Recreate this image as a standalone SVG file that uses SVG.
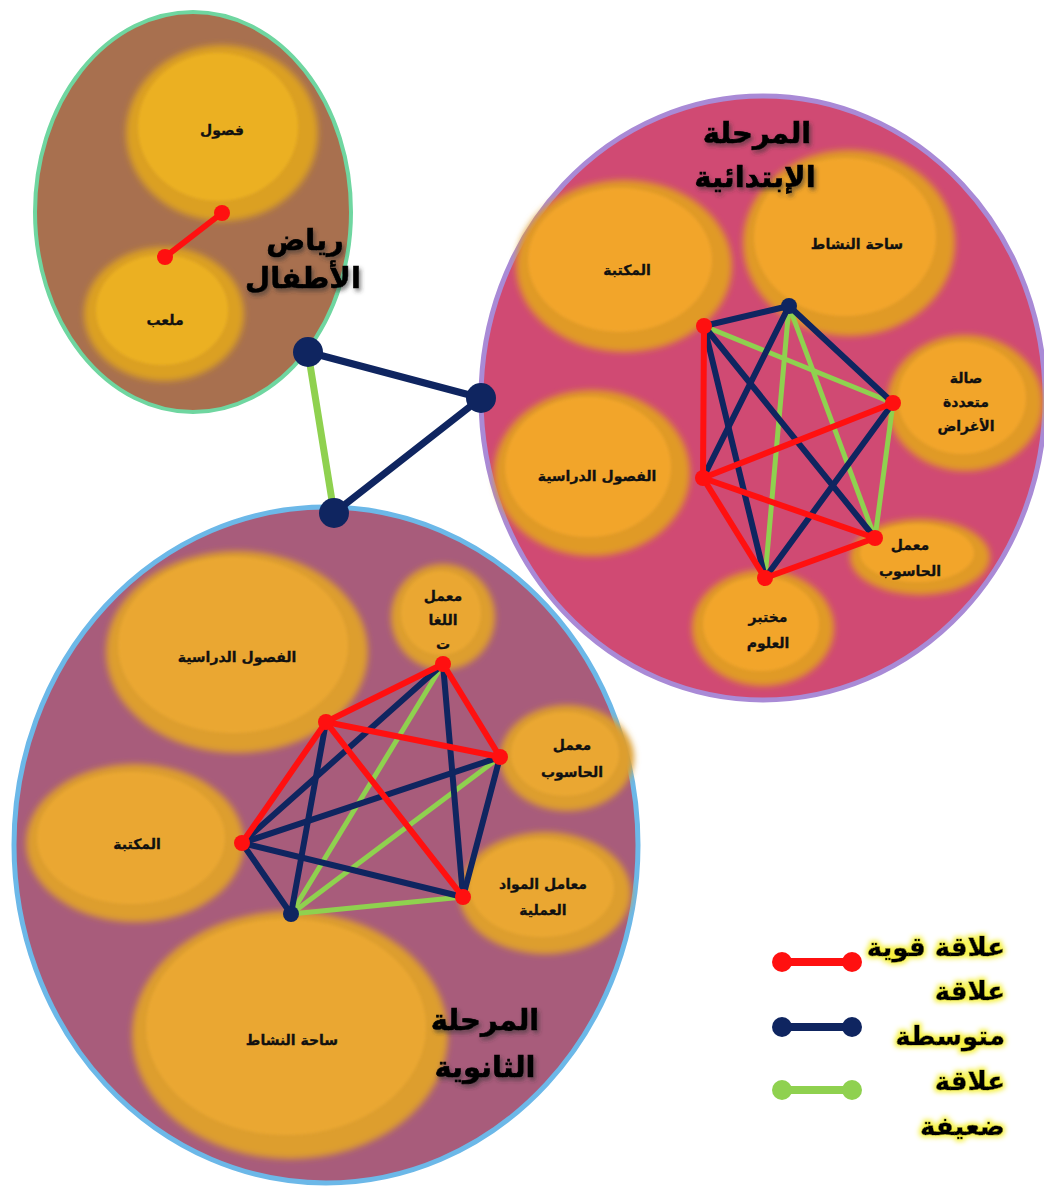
<svg xmlns="http://www.w3.org/2000/svg" width="1044" height="1189" viewBox="0 0 1044 1189">
<defs>
<filter id="soft" x="-10%" y="-10%" width="120%" height="120%"><feGaussianBlur stdDeviation="3"/></filter>
<filter id="soft2" x="-10%" y="-10%" width="120%" height="120%"><feGaussianBlur stdDeviation="1.5"/></filter>
<filter id="tshadow" x="-20%" y="-20%" width="140%" height="140%">
<feGaussianBlur in="SourceAlpha" stdDeviation="2"/><feOffset dx="2" dy="3" result="b"/>
<feFlood flood-color="#333" flood-opacity="0.6"/><feComposite in2="b" operator="in" result="s"/>
<feMerge><feMergeNode in="s"/><feMergeNode in="SourceGraphic"/></feMerge>
</filter>
<filter id="glow" x="-20%" y="-30%" width="140%" height="160%">
<feMorphology in="SourceAlpha" operator="dilate" radius="2" result="d"/>
<feGaussianBlur in="d" stdDeviation="2.5" result="b"/>
<feFlood flood-color="#f5f03a"/><feComposite in2="b" operator="in" result="g"/>
<feMerge><feMergeNode in="g"/><feMergeNode in="SourceGraphic"/></feMerge>
</filter>
</defs>
<style>
.room-o{fill:#e09a28;filter:url(#soft)}
.room-i{fill:#f2a52c;filter:url(#soft2)}
.kg .room-o{fill:#dba024}
.kg .room-i{fill:#ebb023}
.sec .room-o{fill:#dd9e2e}
.sec .room-i{fill:#eaa733}
.lbl{font-family:"DejaVu Sans",sans-serif;font-weight:bold;font-size:14px;fill:#111;stroke:#111;stroke-width:0.3;text-anchor:middle}
.title{font-family:"DejaVu Sans",sans-serif;font-weight:bold;font-size:29px;fill:#000;stroke:#000;stroke-width:0.6;text-anchor:middle;filter:url(#tshadow)}
.leg{font-family:"DejaVu Sans",sans-serif;font-weight:bold;font-size:26px;fill:#000;stroke:#000;stroke-width:0.6;text-anchor:end;filter:url(#glow)}
.r{stroke:#ff1010;stroke-width:6;stroke-linecap:round}
.n{stroke:#0f2560;stroke-width:6;stroke-linecap:round}
.g{stroke:#8fd14f;stroke-width:5;stroke-linecap:round}
.nr{fill:#ff1010}
.nn{fill:#0f2560}
</style>

<!-- Kindergarten -->
<g id="kindergarten" class="kg">
<ellipse cx="193" cy="212" rx="158" ry="200" fill="#a8704f" stroke="#6fd6a0" stroke-width="4"/>
<g id="kg-classes"><ellipse class="room-o" cx="222" cy="133" rx="96" ry="88"/><ellipse class="room-i" cx="218" cy="127" rx="80" ry="74"/><text class="lbl" x="222" y="135">فصول</text></g>
<g id="kg-playground"><ellipse class="room-o" cx="164" cy="314" rx="80" ry="67"/><ellipse class="room-i" cx="162" cy="310" rx="66" ry="55"/><text class="lbl" x="165" y="325">ملعب</text></g>
<text class="title" x="305" y="250">رياض</text>
<text class="title" x="303" y="288">الأطفال</text>
</g>

<!-- Primary -->
<g id="primary">
<ellipse cx="763" cy="398" rx="282" ry="302" fill="#d04a73" stroke="#a98ad6" stroke-width="5"/>
<g id="p-library"><ellipse class="room-o" cx="624" cy="266" rx="108" ry="86"/><ellipse class="room-i" cx="620" cy="260" rx="92" ry="72"/><text class="lbl" x="627" y="275">المكتبة</text></g>
<g id="p-activity"><ellipse class="room-o" cx="849" cy="243" rx="106" ry="93"/><ellipse class="room-i" cx="845" cy="237" rx="91" ry="79"/><text class="lbl" x="857" y="249">ساحة النشاط</text></g>
<g id="p-hall"><ellipse class="room-o" cx="965" cy="403" rx="78" ry="68"/><ellipse class="room-i" cx="962" cy="398" rx="64" ry="56"/><text class="lbl" x="966" y="383">صالة</text><text class="lbl" x="966" y="407">متعددة</text><text class="lbl" x="966" y="431">الأغراض</text></g>
<g id="p-classes"><ellipse class="room-o" cx="592" cy="473" rx="98" ry="83"/><ellipse class="room-i" cx="588" cy="467" rx="83" ry="70"/><text class="lbl" x="597" y="481">الفصول الدراسية</text></g>
<g id="p-computer"><ellipse class="room-o" cx="920" cy="557" rx="70" ry="38"/><ellipse class="room-i" cx="917" cy="553" rx="57" ry="29"/><text class="lbl" x="910" y="550">معمل</text><text class="lbl" x="910" y="576">الحاسوب</text></g>
<g id="p-science"><ellipse class="room-o" cx="763" cy="628" rx="71" ry="58"/><ellipse class="room-i" cx="761" cy="624" rx="58" ry="47"/><text class="lbl" x="768" y="622">مختبر</text><text class="lbl" x="768" y="648">العلوم</text></g>
<text class="title" x="757" y="143">المرحلة</text>
<text class="title" x="755" y="187">الإبتدائية</text>
</g>

<!-- Secondary -->
<g id="secondary" class="sec">
<ellipse cx="326" cy="845" rx="312" ry="338" fill="#a85c7b" stroke="#6cb8e8" stroke-width="5"/>
<g id="s-classes"><ellipse class="room-o" cx="237" cy="652" rx="131" ry="101"/><ellipse class="room-i" cx="233" cy="645" rx="115" ry="88"/><text class="lbl" x="237" y="662">الفصول الدراسية</text></g>
<g id="s-languages"><ellipse class="room-o" cx="443" cy="617" rx="52" ry="53"/><ellipse class="room-i" cx="441" cy="613" rx="40" ry="42"/><text class="lbl" x="443" y="601">معمل</text><text class="lbl" x="443" y="625">اللغا</text><text class="lbl" x="443" y="649">ت</text></g>
<g id="s-computer"><ellipse class="room-o" cx="567" cy="758" rx="67" ry="53"/><ellipse class="room-i" cx="565" cy="754" rx="54" ry="42"/><text class="lbl" x="572" y="750">معمل</text><text class="lbl" x="572" y="777">الحاسوب</text></g>
<g id="s-library"><ellipse class="room-o" cx="135" cy="843" rx="109" ry="79"/><ellipse class="room-i" cx="131" cy="838" rx="94" ry="66"/><text class="lbl" x="137" y="849">المكتبة</text></g>
<g id="s-labs"><ellipse class="room-o" cx="545" cy="893" rx="86" ry="61"/><ellipse class="room-i" cx="542" cy="888" rx="72" ry="49"/><text class="lbl" x="543" y="889">معامل المواد</text><text class="lbl" x="543" y="915">العملية</text></g>
<g id="s-activity"><ellipse class="room-o" cx="290" cy="1035" rx="158" ry="124"/><ellipse class="room-i" cx="286" cy="1027" rx="140" ry="108"/><text class="lbl" x="292" y="1045">ساحة النشاط</text></g>
<text class="title" x="485" y="1030">المرحلة</text>
<text class="title" x="485" y="1077">الثانوية</text>
</g>

<!-- Connectors -->
<g id="connectors">
<!-- stages -->
<line class="g" x1="308" y1="352" x2="334" y2="513" style="stroke-width:7"/>
<line class="n" x1="308" y1="352" x2="481" y2="398" style="stroke-width:7"/>
<line class="n" x1="481" y1="398" x2="334" y2="513" style="stroke-width:7"/>
<circle class="nn" cx="308" cy="352" r="15"/>
<circle class="nn" cx="481" cy="398" r="15"/>
<circle class="nn" cx="334" cy="513" r="15"/>
<!-- kindergarten -->
<line class="r" x1="222" y1="213" x2="165" y2="257"/>
<circle class="nr" cx="222" cy="213" r="8"/><circle class="nr" cx="165" cy="257" r="8"/>
<!-- primary -->
<line class="g" x1="704" y1="326" x2="893" y2="403"/>
<line class="g" x1="789" y1="306" x2="875" y2="538"/>
<line class="g" x1="789" y1="306" x2="765" y2="578"/>
<line class="g" x1="893" y1="403" x2="875" y2="538"/>
<line class="n" x1="704" y1="326" x2="789" y2="306"/>
<line class="n" x1="704" y1="326" x2="875" y2="538"/>
<line class="n" x1="704" y1="326" x2="765" y2="578"/>
<line class="n" x1="789" y1="306" x2="893" y2="403"/>
<line class="n" x1="789" y1="306" x2="703" y2="478"/>
<line class="n" x1="893" y1="403" x2="765" y2="578"/>
<line class="r" x1="704" y1="326" x2="703" y2="478"/>
<line class="r" x1="703" y1="478" x2="893" y2="403"/>
<line class="r" x1="703" y1="478" x2="875" y2="538"/>
<line class="r" x1="703" y1="478" x2="765" y2="578"/>
<line class="r" x1="765" y1="578" x2="875" y2="538"/>
<circle class="nr" cx="704" cy="326" r="8"/>
<circle class="nn" cx="789" cy="306" r="8"/>
<circle class="nr" cx="893" cy="403" r="8"/>
<circle class="nr" cx="703" cy="478" r="8"/>
<circle class="nr" cx="875" cy="538" r="8"/>
<circle class="nr" cx="765" cy="578" r="8"/>
<!-- secondary -->
<line class="g" x1="443" y1="664" x2="291" y2="914"/>
<line class="g" x1="500" y1="757" x2="291" y2="914"/>
<line class="g" x1="463" y1="897" x2="291" y2="914"/>
<line class="n" x1="443" y1="664" x2="242" y2="843"/>
<line class="n" x1="443" y1="664" x2="463" y2="897"/>
<line class="n" x1="326" y1="722" x2="291" y2="914"/>
<line class="n" x1="500" y1="757" x2="242" y2="843"/>
<line class="n" x1="500" y1="757" x2="463" y2="897"/>
<line class="n" x1="242" y1="843" x2="463" y2="897"/>
<line class="n" x1="242" y1="843" x2="291" y2="914"/>
<line class="r" x1="443" y1="664" x2="326" y2="722"/>
<line class="r" x1="443" y1="664" x2="500" y2="757"/>
<line class="r" x1="326" y1="722" x2="500" y2="757"/>
<line class="r" x1="326" y1="722" x2="242" y2="843"/>
<line class="r" x1="326" y1="722" x2="463" y2="897"/>
<circle class="nr" cx="443" cy="664" r="8"/>
<circle class="nr" cx="326" cy="722" r="8"/>
<circle class="nr" cx="500" cy="757" r="8"/>
<circle class="nr" cx="242" cy="843" r="8"/>
<circle class="nr" cx="463" cy="897" r="8"/>
<circle class="nn" cx="291" cy="914" r="8"/>
</g>

<!-- Legend -->
<g id="legend">
<line class="r" x1="782" y1="962" x2="852" y2="962" style="stroke-width:8"/>
<circle class="nr" cx="782" cy="962" r="10"/><circle class="nr" cx="852" cy="962" r="10"/>
<line class="n" x1="782" y1="1027" x2="852" y2="1027" style="stroke-width:8"/>
<circle class="nn" cx="782" cy="1027" r="10"/><circle class="nn" cx="852" cy="1027" r="10"/>
<line class="g" x1="782" y1="1090" x2="852" y2="1090" style="stroke-width:8"/>
<circle cx="782" cy="1090" r="10" fill="#8fd14f"/><circle cx="852" cy="1090" r="10" fill="#8fd14f"/>
<text class="leg" x="1005" y="956">علاقة قوية</text>
<text class="leg" x="1005" y="1000">علاقة</text>
<text class="leg" x="1005" y="1045">متوسطة</text>
<text class="leg" x="1005" y="1090">علاقة</text>
<text class="leg" x="1005" y="1135">ضعيفة</text>
</g>
</svg>
